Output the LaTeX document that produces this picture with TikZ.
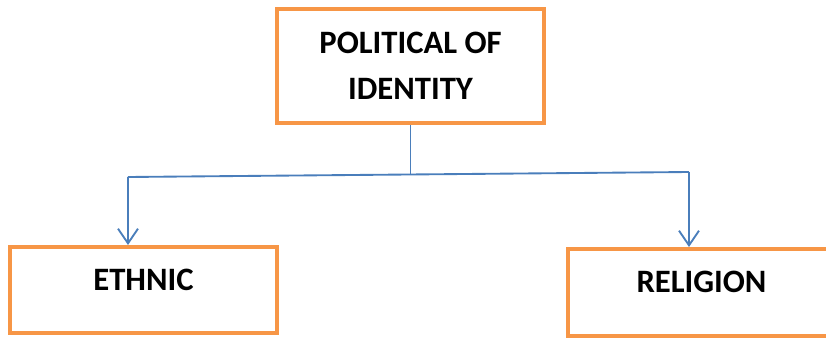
\documentclass[tikz,border=0pt]{standalone}
\usepackage{fontspec}
\setmainfont{Carlito}
\usetikzlibrary{arrows.meta}
\definecolor{boxorange}{RGB}{247,150,70}
\definecolor{lineblue}{RGB}{74,126,187}
\tikzset{every picture/.style={line width=0.75pt}}

\begin{document}
\begin{tikzpicture}[x=0.75pt,y=0.75pt,yscale=-1,xscale=1,
	idbox/.style={draw=boxorange,line width=3pt,minimum width=200pt,inner sep=0pt,align=center,font=\fontsize{24.5}{34.5}\selectfont\bfseries},
	link/.style={draw=lineblue,line width=1.4pt},
	downarrow/.style={link,-{Straight Barb[length=11pt,width=15pt,line width=1.4pt]}}]
	\useasboundingbox (0,0) rectangle (826,339);

	%Shape: Rectangle [id:top]
	\node [idbox,minimum height=85.5pt] (politics) at (410.5,66) {POLITICAL OF\\IDENTITY};
	%Shape: Rectangle [id:left]
	\node [idbox,minimum height=64.5pt,text height=16pt,text depth=16pt] (ethnic) at (143.5,290) {ETHNIC};
	%Shape: Rectangle [id:right]
	\node [idbox,minimum height=65.25pt,text height=16pt,text depth=16pt] (religion) at (701.5,292.5) {RELIGION};

	%Straight Lines
	\coordinate (lcorner) at (128,177);
	\coordinate (rcorner) at (689,172);
	\coordinate (mid) at (410.5,174.5);
	\draw [link] (politics.south) -- (mid) ;
	\draw [link] (lcorner) -- (rcorner) ;
	\draw [downarrow] (lcorner) -- (lcorner |- ethnic.north) ;
	\draw [downarrow] (rcorner) -- (rcorner |- religion.north) ;

\end{tikzpicture}
\end{document}
